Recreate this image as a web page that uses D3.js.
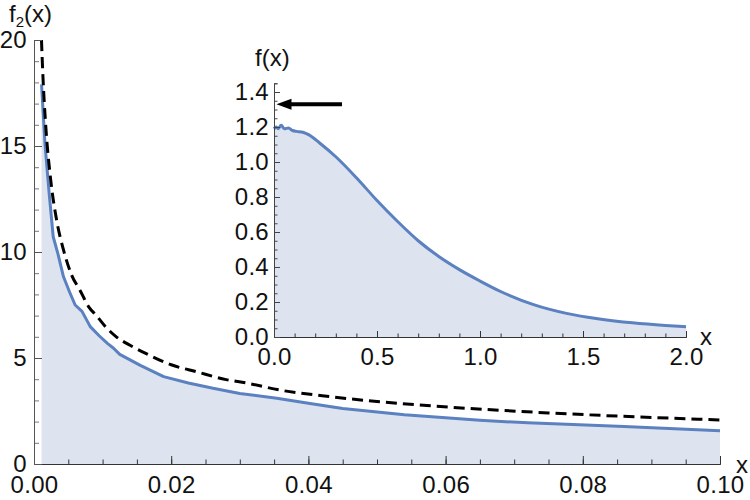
<!DOCTYPE html>
<html>
<head>
<meta charset="utf-8">
<script src="https://cdn.jsdelivr.net/npm/d3@7"></script>
<style>
  body { margin: 0; background: #fff; }
  text { font-family: "Liberation Sans", Arial, sans-serif; fill: #111; }
</style>
</head>
<body>
<div id="chart"></div>
<script>
// main plot: f2(x) numerical (blue) and asymptote (dashed)
const mainX  = [0.0011, 0.0016, 0.0022, 0.0028, 0.0035, 0.0043, 0.0052, 0.0060, 0.0070, 0.0082, 0.0095, 0.0107, 0.0116, 0.0125, 0.0155, 0.0189, 0.0225, 0.0261, 0.0300, 0.0354, 0.040, 0.045, 0.054, 0.065, 0.072, 0.086, 0.1];
const mainF2 = [17.9, 15.1, 12.8, 10.72, 9.9, 8.83, 8.1, 7.5, 7.2, 6.48, 6.05, 5.69, 5.46, 5.17, 4.65, 4.12, 3.82, 3.57, 3.33, 3.1, 2.87, 2.62, 2.32, 2.06, 1.94, 1.77, 1.57];

const dashX  = [0.00109, 0.0013, 0.0017, 0.0024, 0.0033, 0.0043, 0.0055, 0.0067, 0.0080, 0.0091, 0.0105, 0.0120, 0.0140, 0.0164, 0.020, 0.0237, 0.028, 0.031, 0.0358, 0.042, 0.050, 0.058, 0.066, 0.075, 0.085, 0.1];
const dashF2 = [20, 18.3, 16.0, 13.5, 11.5, 10.1, 8.9, 8.2, 7.4, 7.0, 6.45, 6.0, 5.6, 5.2, 4.68, 4.35, 3.98, 3.82, 3.49, 3.22, 2.95, 2.74, 2.57, 2.41, 2.26, 2.08];

// inset: f(x)
const insetX = [0, 0.01, 0.02, 0.035, 0.05, 0.07, 0.09, 0.11, 0.14, 0.17, 0.22, 0.30, 0.40, 0.50, 0.60, 0.70, 0.80, 0.90, 1.00, 1.10, 1.26, 1.42, 1.58, 1.74, 1.90, 2.0];
const insetF = [1.19, 1.20, 1.19, 1.21, 1.19, 1.195, 1.18, 1.175, 1.17, 1.155, 1.11, 1.03, 0.91, 0.78, 0.66, 0.55, 0.46, 0.385, 0.32, 0.26, 0.185, 0.135, 0.103, 0.081, 0.066, 0.059];

// arrow in the inset (value marked on the f(x) axis)
const arrowX = [0.33, 0.012];
const arrowY = 1.33;

// tick values
const mainXTicks = [0, 0.02, 0.04, 0.06, 0.08, 0.10];
const mainYTicks = [0, 5, 10, 15, 20];
const insetXTicks = [0, 0.5, 1.0, 1.5, 2.0];
const insetYTicks = [0, 0.2, 0.4, 0.6, 0.8, 1.0, 1.2, 1.4];

const W = 750, H = 500;
const fillCol = "#dde4ef", lineCol = "#5b81c0";
const fontSize = "24px";

const svg = d3.select("#chart").append("svg")
  .attr("width", W).attr("height", H);

const x = d3.scaleLinear().domain([0, 0.1]).range([34, 720]);
const y = d3.scaleLinear().domain([0, 20]).range([464, 40]);
const xi = d3.scaleLinear().domain([0, 2]).range([274, 686]);
const yi = d3.scaleLinear().domain([0, 1.45]).range([337, 83.25]);

svg.append("clipPath").attr("id", "mclip")
  .append("rect").attr("x", 34).attr("y", 40).attr("width", 686).attr("height", 424);

const mainData = mainX.map((d, i) => [d, mainF2[i]]);
const dashData = dashX.map((d, i) => [d, dashF2[i]]);
const insetData = insetX.map((d, i) => [d, insetF[i]]);

// main fill + curves
svg.append("path")
  .datum(mainData)
  .attr("fill", fillCol)
  .attr("d", d3.area().x(d => x(d[0])).y0(y(0)).y1(d => y(d[1])));

svg.append("path")
  .datum(mainData)
  .attr("clip-path", "url(#mclip)")
  .attr("fill", "none").attr("stroke", lineCol).attr("stroke-width", 3)
  .attr("stroke-linejoin", "round")
  .attr("d", d3.line().x(d => x(d[0])).y(d => y(d[1])));

svg.append("path")
  .datum(dashData)
  .attr("clip-path", "url(#mclip)")
  .attr("fill", "none").attr("stroke", "#000").attr("stroke-width", 3)
  .attr("stroke-dasharray", "11,6")
  .attr("d", d3.line().curve(d3.curveMonotoneX).x(d => x(d[0])).y(d => y(d[1])));

// axes (ticks point inward)
function styleAxis(g, col) {
  g.select(".domain").attr("stroke", col);
  g.selectAll(".tick line").attr("stroke", col);
  g.selectAll("text").style("font-size", fontSize).style("letter-spacing", "0.3px")
    .style("font-family", '"Liberation Sans", Arial, sans-serif').attr("fill", "#111");
}

const mxMinor = svg.append("g").attr("transform", `translate(0,${y(0)})`)
  .call(d3.axisBottom(x).tickValues(d3.range(0, 0.1001, 0.005)).tickSize(-4.5).tickFormat(""));
styleAxis(mxMinor, "#333");
const mxMajor = svg.append("g").attr("transform", `translate(0,${y(0)})`)
  .call(d3.axisBottom(x).tickValues(mainXTicks).tickSizeInner(-8).tickSizeOuter(0)
    .tickPadding(12).tickFormat(d3.format(".2f")));
styleAxis(mxMajor, "#333");

const myMinor = svg.append("g").attr("transform", `translate(${x(0)},0)`)
  .call(d3.axisLeft(y).tickValues(d3.range(0, 20.5, 1)).tickSize(-5).tickFormat(""));
styleAxis(myMinor, "#777");
const myMajor = svg.append("g").attr("transform", `translate(${x(0)},0)`)
  .call(d3.axisLeft(y).tickValues(mainYTicks).tickSizeInner(-8).tickSizeOuter(0).tickPadding(7));
styleAxis(myMajor, "#555");

// inset fill + curve
svg.append("path")
  .datum(insetData)
  .attr("fill", fillCol)
  .attr("d", d3.area().curve(d3.curveMonotoneX).x(d => xi(d[0])).y0(yi(0)).y1(d => yi(d[1])));

svg.append("path")
  .datum(insetData)
  .attr("fill", "none").attr("stroke", lineCol).attr("stroke-width", 3)
  .attr("stroke-linejoin", "round")
  .attr("d", d3.line().curve(d3.curveMonotoneX).x(d => xi(d[0])).y(d => yi(d[1])));

const ixMinor = svg.append("g").attr("transform", `translate(0,${yi(0)})`)
  .call(d3.axisBottom(xi).tickValues(d3.range(0, 2.01, 0.1)).tickSize(-3.5).tickFormat(""));
styleAxis(ixMinor, "#333");
const ixMajor = svg.append("g").attr("transform", `translate(0,${yi(0)})`)
  .call(d3.axisBottom(xi).tickValues(insetXTicks).tickSizeInner(-6).tickSizeOuter(0)
    .tickPadding(11).tickFormat(d3.format(".1f")));
styleAxis(ixMajor, "#333");

const iyMinor = svg.append("g").attr("transform", `translate(${xi(0)},0)`)
  .call(d3.axisLeft(yi).tickValues(d3.range(0, 1.451, 0.05)).tickSize(-3.5).tickFormat(""));
styleAxis(iyMinor, "#444");
const iyMajor = svg.append("g").attr("transform", `translate(${xi(0)},0)`)
  .call(d3.axisLeft(yi).tickValues(insetYTicks).tickSizeInner(-6).tickSizeOuter(0)
    .tickPadding(5).tickFormat(d3.format(".1f")));
styleAxis(iyMajor, "#444");

// arrow
const ax0 = xi(arrowX[0]), ax1 = xi(arrowX[1]), ay = yi(arrowY);
svg.append("line")
  .attr("x1", ax0).attr("x2", ax1 + 12).attr("y1", ay).attr("y2", ay)
  .attr("stroke", "#000").attr("stroke-width", 4);
svg.append("path")
  .attr("fill", "#000")
  .attr("d", `M${ax1},${ay} L${ax1 + 15},${ay - 5.5} L${ax1 + 15},${ay + 5.5} Z`);

// axis titles
const t1 = svg.append("text").attr("x", 9).attr("y", 22).style("font-size", fontSize);
t1.append("tspan").text("f");
t1.append("tspan").text("2").attr("dy", 5).style("font-size", "15px");
t1.append("tspan").text("(x)").attr("dy", -5);

svg.append("text").attr("x", 736).attr("y", 473).style("font-size", fontSize).text("x");
svg.append("text").attr("x", 255).attr("y", 66).style("font-size", fontSize).text("f(x)");
svg.append("text").attr("x", 700).attr("y", 345).style("font-size", fontSize).text("x");
</script>
</body>
</html>
